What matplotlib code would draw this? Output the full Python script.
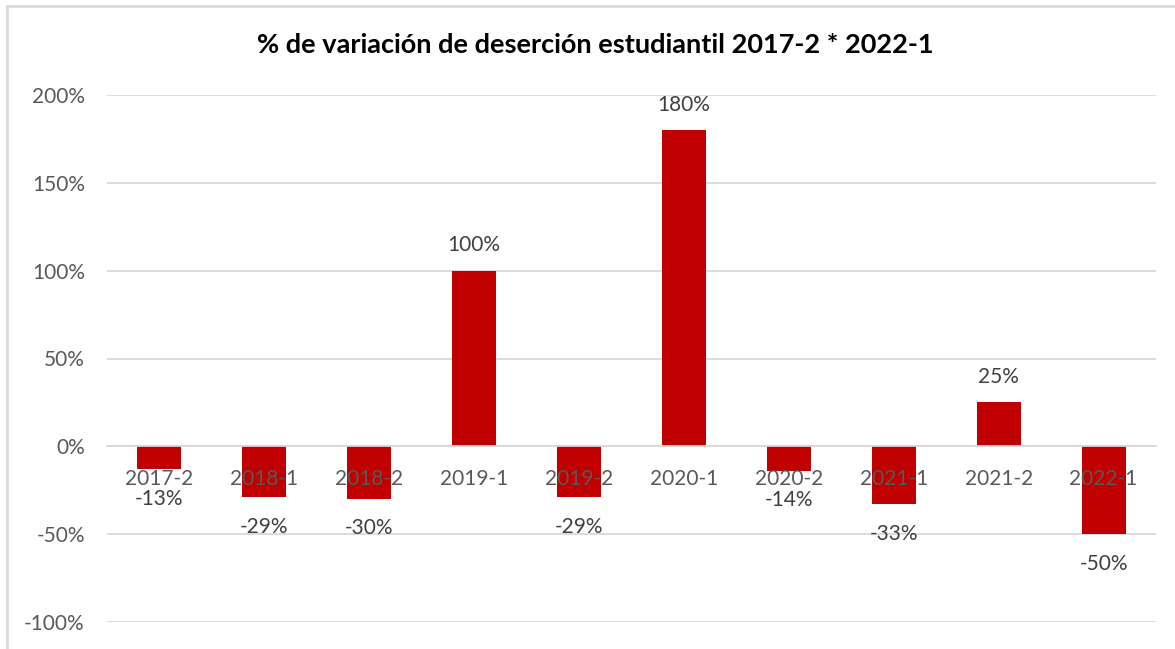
import matplotlib
matplotlib.use("Agg")
import matplotlib.pyplot as plt
from matplotlib.patches import Rectangle

plt.rcParams["font.family"] = ["Lato", "DejaVu Sans"]

# data
periods = ['2017-2', '2018-1', '2018-2', '2019-1', '2019-2',
           '2020-1', '2020-2', '2021-1', '2021-2', '2022-1']
variation = [-13, -29, -30, 100, -29, 180, -14, -33, 25, -50]
yticks = [-100, -50, 0, 50, 100, 150, 200]

bar_color = '#C00000'
grid_color = '#D9D9D9'
label_color = '#595959'
value_color = '#404040'
font_size = 15

fig = plt.figure(figsize=(11.75, 6.49), dpi=100)
ax = fig.add_axes([107 / 1175, 27 / 649, 1049 / 1175, 527 / 649])

# chart border (Excel chart area)
fig.patches.append(Rectangle((7 / 1175, -0.1), 1.2, (649 - 6) / 649 + 0.1,
                             transform=fig.transFigure, fill=False,
                             edgecolor=grid_color, linewidth=2))

for y in yticks:
    ax.axhline(y, color=grid_color, linewidth=1.3, zorder=0)

x = list(range(len(periods)))
bars = ax.bar(x, variation, width=0.42, color=bar_color, zorder=1)

for xi, v in zip(x, variation):
    if v >= 0:
        ax.annotate(f'{v}%', (xi, v), xytext=(0, 11), textcoords='offset points',
                    ha='center', va='bottom', fontsize=font_size, color=value_color)
    else:
        ax.annotate(f'{v}%', (xi, v), xytext=(0, -14), textcoords='offset points',
                    ha='center', va='top', fontsize=font_size, color=value_color)

ax.set_xlim(-0.5, len(periods) - 0.5)
ax.set_ylim(-100, 200)
ax.set_yticks(yticks)
ax.set_yticklabels([f'{t}%' for t in yticks])
ax.set_xticks(x)
ax.set_xticklabels(periods)

for s in ['top', 'right', 'left']:
    ax.spines[s].set_visible(False)
ax.spines['bottom'].set_position(('data', 0))
ax.spines['bottom'].set_color(grid_color)
ax.spines['bottom'].set_linewidth(1.3)

ax.tick_params(axis='y', length=0, pad=16, labelsize=font_size, labelcolor=label_color)
ax.tick_params(axis='x', length=0, pad=16, labelsize=font_size, labelcolor=label_color)

fig.text(595 / 1175, 1 - 45 / 649, '% de variación de deserción estudiantil 2017-2 * 2022-1',
         ha='center', va='center', fontsize=19.5, fontweight='bold', color='black')

fig.savefig('out.png', dpi=100)
